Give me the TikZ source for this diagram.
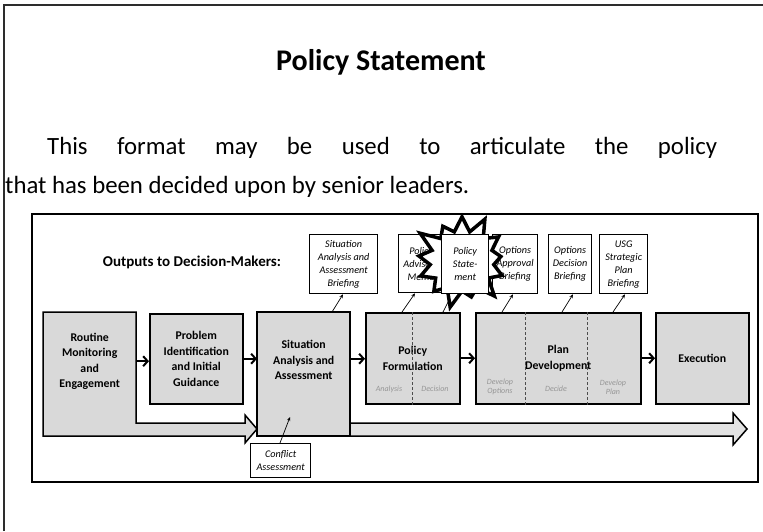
\documentclass[tikz,border=0pt]{standalone}
\usepackage{fontspec}
\setmainfont{Carlito}
\usetikzlibrary{arrows.meta,shapes.symbols}
\definecolor{boxgray}{RGB}{217,217,217}
\definecolor{shaftgray}{RGB}{226,226,226}
\definecolor{pageline}{RGB}{45,45,45}
\definecolor{sublbl}{RGB}{150,150,150}
\tikzset{
  boxnode/.style={draw, line width=1.5pt, fill=boxgray, anchor=north west, inner sep=0pt, align=center,
    font=\fontsize{11.8}{15.5}\selectfont\bfseries},
  plainlbl/.style={anchor=north west, inner sep=0pt, align=center, font=\fontsize{11.8}{15.5}\selectfont\bfseries},
  outbox/.style={draw, line width=1.3pt, fill=white, anchor=north west, inner sep=0pt, align=center,
    font=\fontsize{10.2}{13}\selectfont\itshape},
  sublabel/.style={inner sep=0pt, align=center, text=sublbl, font=\fontsize{8}{9.5}\selectfont\itshape},
  flow/.style={line width=2pt, -{Straight Barb[length=4.5pt,width=10pt,line width=2pt]}},
  small/.style={line width=0.7pt, -{Stealth[length=4pt,width=3.5pt]}},
  divider/.style={densely dashed, line width=0.6pt, draw=black!70},
  bigarrow/.style={draw, line width=1.5pt, fill=shaftgray, line join=miter}
}
\begin{document}
\begin{tikzpicture}[x=1pt,y=-1pt]
\useasboundingbox (0,0) rectangle (763,531);
% page frame
\draw[line width=2pt, pageline] (4,531) -- (4,5) -- (763,5);
% heading and text
\node[font=\fontsize{30}{35}\selectfont\bfseries] (title) at (381,62) {Policy Statement};
\node[anchor=west, inner sep=0pt, font=\fontsize{24.8}{30}\selectfont] (line1) at (47,148)
  {\makebox[670pt][s]{This format may be used to articulate the policy}};
\node[anchor=west, inner sep=0pt, font=\fontsize{24.8}{30}\selectfont] (line2) at (5,187)
  {that has been decided upon by senior leaders.};
% figure frame
\draw[line width=1.6pt] (32,214) rectangle (758,482);
\node[font=\fontsize{15}{17}\selectfont\bfseries] (outs) at (192,262) {Outputs to Decision-Makers:};
% big arrows combined with boxes
\draw[bigarrow, fill=boxgray] (43,312) -- (136,312) -- (136,423) -- (245,423) -- (245,415) -- (257,429)
  -- (245,443) -- (245,436) -- (43,436) -- cycle;
\draw[bigarrow] (350,423) -- (733,423) -- (733,413) -- (747,429) -- (733,445) -- (733,436) -- (350,436) -- cycle;
\draw[bigarrow, fill=boxgray] (257,312) -- (350,312) -- (350,436) -- (257,436) -- cycle;
% process boxes
\node[plainlbl, minimum width=93pt, minimum height=98pt] (rout) at (43,312) {Routine\\Monitoring\\and\\Engagement};
\node[boxnode, minimum width=93pt, minimum height=90pt] (prob) at (149,313) {Problem\\Identification\\and Initial\\Guidance};
\node[plainlbl, minimum width=93pt, minimum height=96pt] (sit) at (257,312) {Situation\\Analysis and\\Assessment};
\node[boxnode, minimum width=94pt, minimum height=91pt] (pol) at (365,312) {Policy\\Formulation};
\node[boxnode, minimum width=165pt, minimum height=91pt] (plan) at (475,312) {Plan\\Development};
\node[boxnode, minimum width=93pt, minimum height=91pt] (exe) at (655,312) {Execution};
% dividers
\draw[divider] ([xshift=47pt]pol.north west) -- ([xshift=47pt]pol.south west);
\draw[divider] ([xshift=50pt]plan.north west) -- ([xshift=50pt]plan.south west);
\draw[divider] ([xshift=112pt]plan.north west) -- ([xshift=112pt]plan.south west);
% sub labels
\node[sublabel] (sa) at (389,389) {Analysis};
\node[sublabel] (sd) at (435,389) {Decision};
\node[sublabel] (sdo) at (500,387) {Develop\\Options};
\node[sublabel] (sde) at (556,389) {Decide};
\node[sublabel] (sdp) at (613,387) {Develop\\Plan};
% flow arrows
\draw[flow] (rout.east) -- (rout.east -| prob.west);
\draw[flow] (prob.east) -- (prob.east -| sit.west);
\draw[flow] (prob.east -| sit.east) -- (prob.east -| pol.west);
\draw[flow] (pol.east) -- (pol.east -| plan.west);
\draw[flow] (plan.east) -- (exe.west);
% output boxes
\node[outbox, minimum width=68pt, minimum height=59pt] (o1) at (309,234) {Situation\\Analysis and\\Assessment\\Briefing};
\node[outbox, minimum width=45pt, minimum height=58pt] (o2) at (398,234) {Policy\\Advisory\\Memo};
\node[outbox, minimum width=45pt, minimum height=59pt] (o4) at (492,234) {Options\\Approval\\Briefing};
\node[outbox, minimum width=43pt, minimum height=59pt] (o5) at (548,234) {Options\\Decision\\Briefing};
\node[outbox, minimum width=48pt, minimum height=59pt] (o6) at (599,234) {USG\\Strategic\\Plan\\Briefing};
% small arrows
\draw[small] ([xshift=75pt]sit.north west) -- ([xshift=34pt]o1.south west);
\draw[small] ([xshift=37pt]pol.north west) -- ([xshift=17pt]o2.south west);
\node[outbox, draw=none, fill=none, minimum width=47pt, minimum height=59pt] (o3pos) at (441,234) {};
\draw[small] ([xshift=78pt]pol.north west) -- ([xshift=11pt]o3pos.south west);
\draw[small] ([xshift=27pt]plan.north west) -- ([xshift=21pt]o4.south west);
\draw[small] ([xshift=87pt]plan.north west) -- ([xshift=25pt]o5.south west);
\draw[small] ([xshift=138pt]plan.north west) -- ([xshift=26pt]o6.south west);
% starburst
\node[starburst, starburst points=13, starburst point height=20pt, draw, fill=white, line width=3.5pt,
  minimum width=104pt, minimum height=100pt, inner sep=0pt] (star) at (462,261) {};
\node[outbox, minimum width=47pt, minimum height=59pt] (o3) at (441,234) {Policy\\State-\\ment};
% conflict assessment
\node[outbox, minimum width=60pt, minimum height=34pt] (conf) at (250,443) {Conflict\\Assessment};
\coordinate (ca) at (290,417);
\draw[small] ([xshift=30pt]conf.north west) -- (ca);
\end{tikzpicture}
\end{document}
